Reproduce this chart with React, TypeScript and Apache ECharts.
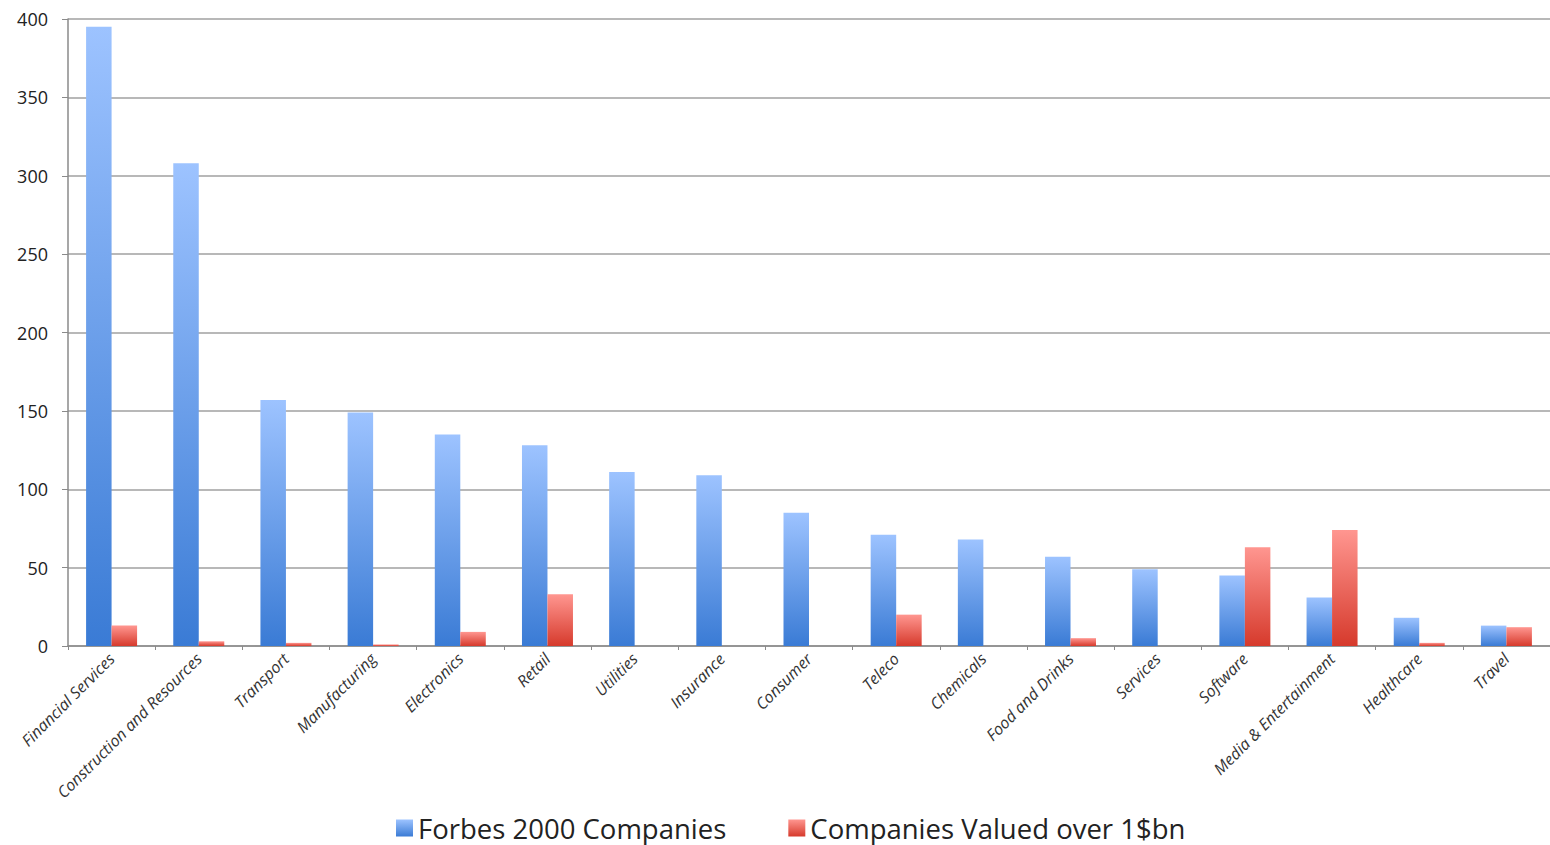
import React, { useEffect, useRef } from "react";
import * as echarts from "echarts";

const categories = [
  "Financial Services",
  "Construction and Resources",
  "Transport",
  "Manufacturing",
  "Electronics",
  "Retail",
  "Utilities",
  "Insurance",
  "Consumer",
  "Teleco",
  "Chemicals",
  "Food and Drinks",
  "Services",
  "Software",
  "Media & Entertainment",
  "Healthcare",
  "Travel",
];

const forbes2000 = [395, 308, 157, 149, 135, 128, 111, 109, 85, 71, 68, 57, 49, 45, 31, 18, 13];
const valuedOver1bn = [13, 3, 2, 1, 9, 33, 0, 0, 0, 20, 0, 5, 0, 63, 74, 2, 12];

const yTicks = [0, 50, 100, 150, 200, 250, 300, 350, 400];

const FONT = "'Open Sans', 'Noto Sans', sans-serif";

export default function App() {
  const ref = useRef<HTMLDivElement>(null);

  useEffect(() => {
    if (!ref.current) return;
    const chart = echarts.init(ref.current, null, { renderer: "svg" });
    const blue = new echarts.graphic.LinearGradient(0, 0, 0, 1, [
      { offset: 0, color: "#9dc3ff" },
      { offset: 1, color: "#3a7bd5" },
    ]);
    const red = new echarts.graphic.LinearGradient(0, 0, 0, 1, [
      { offset: 0, color: "#ff9690" },
      { offset: 1, color: "#d63a2c" },
    ]);
    chart.setOption({
      animation: false,
      backgroundColor: "#ffffff",
      grid: { left: 68, top: 19, width: 1492, height: 627 },
      legend: {
        bottom: -2,
        left: 391,
        icon: "rect",
        itemWidth: 17,
        itemHeight: 17,
        itemGap: 62,
        textStyle: { fontFamily: FONT, fontSize: 27.5, color: "#222" },
        data: ["Forbes 2000 Companies", "Companies Valued over 1$bn"],
      },
      xAxis: {
        type: "category",
        data: categories,
        axisLine: { lineStyle: { color: "#8a8a8a", width: 1.5 } },
        axisTick: { show: true, length: 4, lineStyle: { color: "#8a8a8a" } },
        axisLabel: {
          rotate: 45,
          margin: 10,
          interval: 0,
          fontFamily: FONT,
          fontStyle: "italic",
          fontSize: 16,
          color: "#333",
        },
      },
      yAxis: {
        type: "value",
        min: yTicks[0],
        max: yTicks[yTicks.length - 1],
        interval: 50,
        axisLine: { show: true, lineStyle: { color: "#8a8a8a", width: 1.5 } },
        axisTick: { show: true, length: 6, lineStyle: { color: "#8a8a8a" } },
        axisLabel: { fontFamily: FONT, fontSize: 18, color: "#222", margin: 20 },
        splitLine: { lineStyle: { color: "#a0a0a0", width: 1.5 } },
      },
      series: [
        {
          name: "Forbes 2000 Companies",
          type: "bar",
          data: forbes2000,
          barWidth: 25.5,
          barGap: "0%",
          itemStyle: { color: blue },
        },
        {
          name: "Companies Valued over 1$bn",
          type: "bar",
          data: valuedOver1bn,
          barWidth: 25.5,
          barGap: "0%",
          itemStyle: { color: red },
        },
      ],
    });
    return () => chart.dispose();
  }, []);

  return (
    <div
      ref={ref}
      style={{ position: "fixed", left: 0, top: 0, width: 1550, height: 845 }}
    />
  );
}
